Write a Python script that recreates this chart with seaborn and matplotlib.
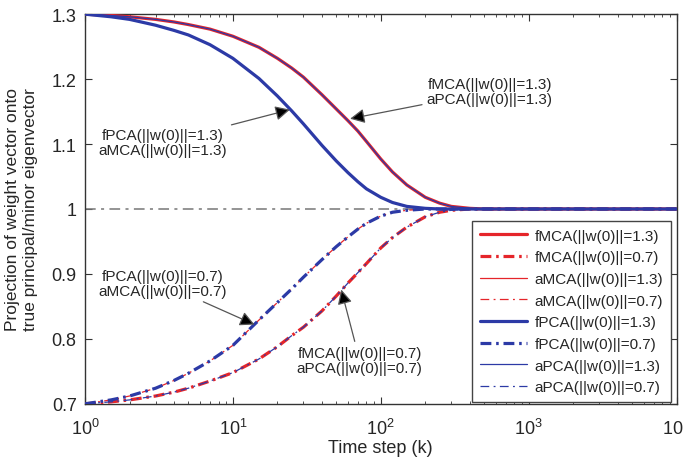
import numpy as np
import pandas as pd
import seaborn as sns
import matplotlib.pyplot as plt
from matplotlib.ticker import LogLocator, FuncFormatter, FixedLocator, NullLocator

k = [1, 1.5, 2, 3, 4, 5, 7, 10, 15, 20, 25, 30, 40, 50, 60, 70, 80,
     100, 120, 150, 200, 250, 300, 400, 500, 700, 1000, 2000, 5000, 10000]

# slow decay from 1.3 (fMCA / aPCA, ||w(0)||=1.3)
slow_13 = [1.300, 1.298, 1.296, 1.292, 1.288, 1.284, 1.277, 1.266, 1.249, 1.232,
           1.217, 1.203, 1.176, 1.154, 1.136, 1.120, 1.104, 1.077, 1.057, 1.037,
           1.018, 1.009, 1.004, 1.001, 1.000, 1.000, 1.000, 1.000, 1.000, 1.000]
# fast decay from 1.3 (fPCA / aMCA, ||w(0)||=1.3)
fast_13 = [1.300, 1.296, 1.292, 1.283, 1.275, 1.268, 1.253, 1.232, 1.201, 1.174,
           1.151, 1.131, 1.098, 1.074, 1.056, 1.042, 1.031, 1.018, 1.010, 1.004,
           1.001, 1.000, 1.000, 1.000, 1.000, 1.000, 1.000, 1.000, 1.000, 1.000]
# fast rise from 0.7 (fPCA / aMCA, ||w(0)||=0.7)
fast_07 = [0.700, 0.706, 0.712, 0.724, 0.736, 0.747, 0.766, 0.790, 0.829, 0.856,
           0.877, 0.895, 0.922, 0.942, 0.957, 0.969, 0.978, 0.989, 0.995, 0.998,
           1.000, 1.000, 1.000, 1.000, 1.000, 1.000, 1.000, 1.000, 1.000, 1.000]
# slow rise from 0.7 (fMCA / aPCA, ||w(0)||=0.7)
slow_07 = [0.700, 0.703, 0.706, 0.712, 0.718, 0.724, 0.735, 0.748, 0.769, 0.788,
           0.805, 0.818, 0.843, 0.866, 0.886, 0.902, 0.916, 0.940, 0.956, 0.972,
           0.988, 0.995, 0.998, 1.000, 1.000, 1.000, 1.000, 1.000, 1.000, 1.000]

labels = ['fMCA(||w(0)||=1.3)', 'fMCA(||w(0)||=0.7)',
          'aMCA(||w(0)||=1.3)', 'aMCA(||w(0)||=0.7)',
          'fPCA(||w(0)||=1.3)', 'fPCA(||w(0)||=0.7)',
          'aPCA(||w(0)||=1.3)', 'aPCA(||w(0)||=0.7)']
series = [slow_13, slow_07, fast_13, fast_07, fast_13, fast_07, slow_13, slow_07]

red = '#e5252a'
blue = '#2c3aa6'
colors = [red, red, red, red, blue, blue, blue, blue]
widths = [2.3, 2.3, 0.9, 0.9, 2.3, 2.3, 0.9, 0.9]
thick_dd = (3.4, 1.5, 0.8, 1.5)
thin_dd = (7, 3.5, 1.5, 3.5)
styles = ['-', (0, thick_dd), '-', (0, thin_dd), '-', (0, thick_dd), '-', (0, thin_dd)]

sns.set_style('ticks')
plt.rcParams['font.family'] = ['Liberation Sans', 'DejaVu Sans']
plt.rcParams['mathtext.fontset'] = 'custom'
plt.rcParams['mathtext.rm'] = 'Liberation Sans'
plt.rcParams['mathtext.it'] = 'Liberation Sans'

fig = plt.figure(figsize=(6.83, 4.60), dpi=100)
ax = fig.add_axes([0.1245, 0.12, 0.866, 0.847])

ax.plot([1, 1e4], [1, 1], color='#777777', lw=1.1, linestyle=(0, (7, 3.5, 2, 3.5)),
        zorder=1)

df = pd.DataFrame({'k': k})
for lab, ys, c, w, s in zip(labels, series, colors, widths, styles):
    df['v'] = ys
    sns.lineplot(data=df, x='k', y='v', ax=ax, color=c, lw=w, linestyle=s,
                 label=lab, zorder=3)

ax.set_xscale('log')
ax.set_xlim(1, 1e4)
ax.set_ylim(0.7, 1.3)
ax.xaxis.set_major_locator(LogLocator(base=10, numticks=10))
ax.xaxis.set_major_formatter(FuncFormatter(lambda v, p: r'$10^{%d}$' % round(np.log10(v))))
ax.yaxis.set_major_locator(FixedLocator([0.7, 0.8, 0.9, 1.0, 1.1, 1.2, 1.3]))
ax.yaxis.set_minor_locator(NullLocator())
ax.yaxis.set_major_formatter(FuncFormatter(lambda v, p: '%g' % round(v, 1)))
ax.tick_params(which='both', direction='in', top=True, right=True,
               labelsize=13, color='#333333')
ax.tick_params(axis='x', pad=10)
ax.tick_params(axis='y', pad=6)
ax.tick_params(which='major', length=5)
ax.tick_params(which='minor', length=2.5)
for sp in ax.spines.values():
    sp.set_color('#333333')
    sp.set_linewidth(1.0)

ax.set_xlabel('Time step (k)', fontsize=13, labelpad=1)
ax.set_ylabel('Projection of weight vector onto\ntrue principal/minor eigenvector',
              fontsize=12.5, labelpad=10)

arrow = dict(arrowstyle='-|>', color='#555555', lw=0.9, mutation_scale=22,
             shrinkA=1, shrinkB=0)
ann = dict(fontsize=11, ha='center', va='center', linespacing=1.05,
           arrowprops=arrow)
a = ax.annotate('fMCA(||w(0)||=1.3)\naPCA(||w(0)||=1.3)', xy=(62, 1.139),
                xytext=(545, 1.181), **ann)
a.arrow_patch.set_facecolor('black')
a = ax.annotate('fPCA(||w(0)||=1.3)\naMCA(||w(0)||=1.3)', xy=(24.3, 1.153),
                xytext=(3.35, 1.102), **ann)
a.arrow_patch.set_facecolor('black')
a = ax.annotate('fPCA(||w(0)||=0.7)\naMCA(||w(0)||=0.7)', xy=(14, 0.822),
                xytext=(3.35, 0.885), **ann)
a.arrow_patch.set_facecolor('black')
a = ax.annotate('fMCA(||w(0)||=0.7)\naPCA(||w(0)||=0.7)', xy=(54, 0.876),
                xytext=(72, 0.767), **ann)
a.arrow_patch.set_facecolor('black')

leg = ax.legend(loc='lower right', bbox_to_anchor=(0.99, 0.005), fontsize=11,
                frameon=True, fancybox=False, edgecolor='#444444',
                handlelength=3.1, labelspacing=0.5, borderaxespad=0,
                handletextpad=0.45, borderpad=0.5)
leg.get_frame().set_linewidth(1.0)
leg.get_frame().set_alpha(1)

fig.savefig('out.png', dpi=100)
